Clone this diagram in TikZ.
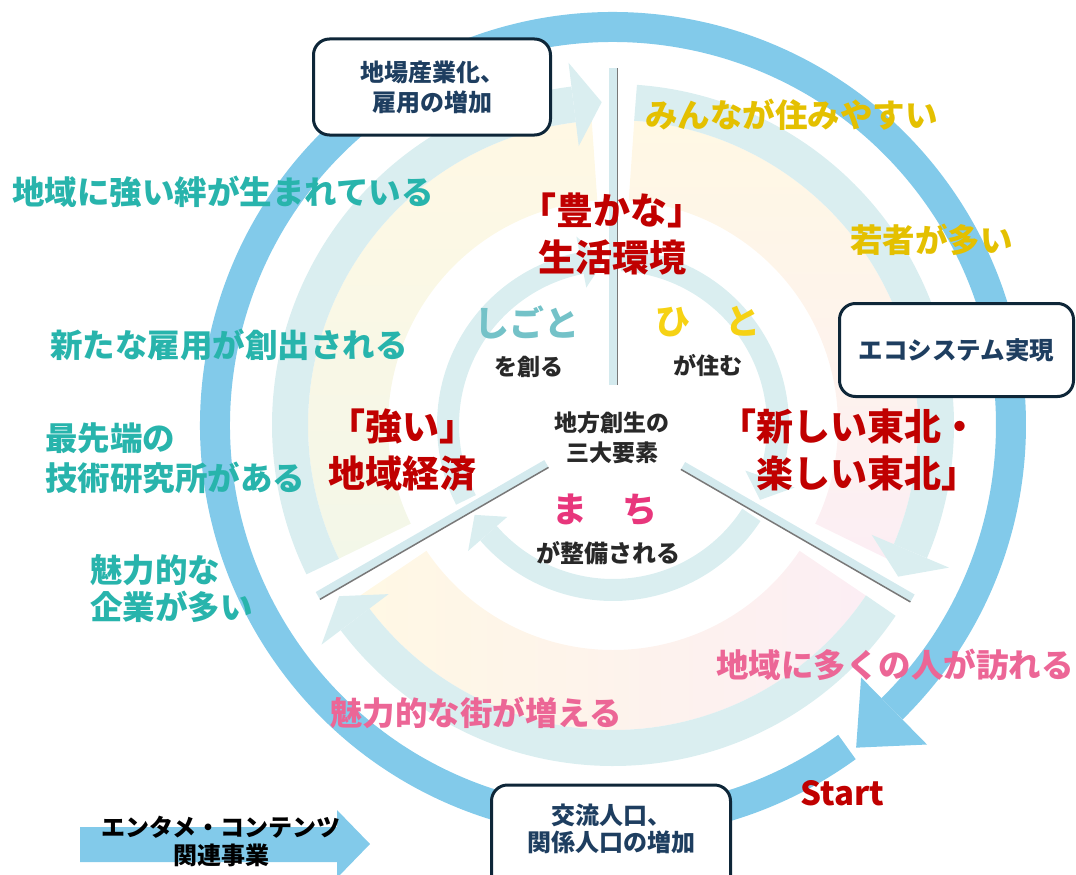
\documentclass[tikz,border=0pt]{standalone}
\usepackage{fontspec}
\setmainfont{Noto Sans CJK JP}
\usepackage{tikz}
\usetikzlibrary{calc}
\definecolor{ringblue}{RGB}{130,202,234}
\definecolor{ringpale}{RGB}{218,238,240}
\definecolor{boxnavy}{RGB}{14,38,56}
\definecolor{boxtext}{RGB}{30,62,96}
\definecolor{tealtext}{RGB}{40,180,172}
\definecolor{goldtext}{RGB}{228,192,0}
\definecolor{pinktext}{RGB}{236,102,150}
\definecolor{redtext}{RGB}{192,0,0}
\definecolor{darktext}{RGB}{40,40,40}
\definecolor{shigoto}{RGB}{116,194,200}
\definecolor{hito}{RGB}{246,210,20}
\definecolor{machi}{RGB}{232,54,124}
\definecolor{paleyellow}{RGB}{255,248,228}
\definecolor{palepink}{RGB}{252,238,244}
\definecolor{palegreen}{RGB}{243,247,232}
\definecolor{bargray}{RGB}{120,120,120}
\definecolor{barcyan}{RGB}{212,234,238}

\tikzset{
  infobox/.style={draw=boxnavy, line width=3pt, rounded corners=16pt, fill=white, inner sep=0pt},
  boxlabel/.style={text=boxtext, font=\fontsize{24}{30}\selectfont\bfseries, align=center},
  outerlabel/.style={font=\fontsize{32.5}{39}\selectfont\bfseries, inner sep=0pt, align=left},
  redlabel/.style={text=redtext, font=\fontsize{37}{47}\selectfont\bfseries, inner sep=0pt, align=center},
  elemlabel/.style={font=\fontsize{35}{40}\selectfont\bfseries, inner sep=0pt},
  sublabel/.style={text=darktext, font=\fontsize{23}{30}\selectfont\bfseries, inner sep=0pt, align=center},
  midring/.style={ringpale, line width=36pt},
  innerring/.style={ringpale, line width=22pt}
}

\begin{document}
\begin{tikzpicture}[x=1pt, y=1pt]
    \useasboundingbox (0,0) rectangle (1076,-875);
    \clip (0,0) rectangle (1076,-875);

    \begin{scope}[shift={(613,-425)}]
    % pale bands inside the middle ring
    \shade[top color=paleyellow, bottom color=palegreen] (206:225) arc[start angle=206, end angle=94, radius=225] -- (94:305) arc[start angle=94, end angle=206, radius=305] -- cycle;
    \shade[top color=paleyellow, bottom color=palepink] (86:225) arc[start angle=86, end angle=-26, radius=225] -- (-26:305) arc[start angle=-26, end angle=86, radius=305] -- cycle;
    \shade[left color=paleyellow, right color=palepink] (-34:225) arc[start angle=-34, end angle=-146, radius=225] -- (-146:305) arc[start angle=-146, end angle=-34, radius=305] -- cycle;

    % middle and inner ring arrows, one per sector
    \foreach \a in {210, 90, -30} {
        \draw[midring] (\a-4:323) arc[start angle=\a-4, end angle=\a-113, radius=323];
        \fill[ringpale] (\a-113:281) -- (\a-118:323) -- (\a-113:365) -- cycle;
        \draw[innerring] (\a-3:165) arc[start angle=\a-3, end angle=\a-109, radius=165];
        \fill[ringpale] (\a-109:140) -- (\a-117:165) -- (\a-109:192) -- cycle;
    }

    % outer ring
    \draw[ringblue, line width=30pt] (-54:398) arc[start angle=-54, end angle=-405.5, radius=398];
    \fill[ringblue] (-45.5:354) -- (-53:404) -- (-45.5:448) -- cycle;

    % dividers
    \foreach \a/\ra/\rb/\s in {90/40/357/-1, 210/77/341/1, -30/81/346/-1} {
        \begin{scope}[rotate=\a]
            \fill[barcyan] (\ra,-4) rectangle (\rb,4);
            \draw[bargray, line width=1.5pt] (\ra,\s*4.5) -- (\rb,\s*4.5);
        \end{scope}
    }
    \end{scope}

    % boxes
    \node[infobox, boxlabel, minimum width=237pt, minimum height=96pt] (jiba) at (432,-87) {地場産業化、\\雇用の増加};
    \node[infobox, boxlabel, font=\fontsize{24.5}{30}\selectfont\bfseries, minimum width=234pt, minimum height=93pt] (eco) at (956.5,-350) {エコシステム実現};
    \node[infobox, minimum width=239pt, minimum height=130pt, anchor=north] (kouryubox) at (611,-783.5) {};
    \node[boxlabel, font=\fontsize{24}{27}\selectfont\bfseries, inner sep=0pt] (kouryu) at (611,-828.5) {交流人口、\\関係人口の増加};

    % arrow bottom left
    \fill[ringblue] (80,-827) -- (337,-827) -- (337,-810) -- (370,-844) -- (337,-878) -- (337,-862) -- (80,-862) -- cycle;
    \node[font=\fontsize{24}{28}\selectfont\bfseries, align=center, inner sep=0pt] (entame) at (221,-841) {エンタメ・コンテンツ\\関連事業};

    % outer labels
    \node[outerlabel, text=tealtext, anchor=west] (kizuna) at (12,-192) {地域に強い絆が生まれている};
    \node[outerlabel, text=tealtext, anchor=west] (koyou) at (50,-345) {新たな雇用が創出される};
    \node[outerlabel, text=tealtext, anchor=west, font=\fontsize{32.5}{40}\selectfont\bfseries] (kenkyu) at (45,-458) {最先端の\\技術研究所がある};
    \node[outerlabel, text=tealtext, anchor=west, font=\fontsize{32.5}{37}\selectfont\bfseries] (kigyou) at (90,-588) {魅力的な\\企業が多い};
    \node[outerlabel, text=goldtext, anchor=west] (sumiyasui) at (645,-115) {みんなが住みやすい};
    \node[outerlabel, text=goldtext, anchor=west] (wakamono) at (850,-240) {若者が多い};
    \node[outerlabel, text=pinktext, anchor=west] (otozure) at (716,-665) {地域に多くの人が訪れる};
    \node[outerlabel, text=pinktext, anchor=west] (machinami) at (330,-713) {魅力的な街が増える};

    % sector titles
    \node[redlabel] (yutaka) at (612,-234.5) {「豊かな」\\生活環境};
    \node[redlabel] (tsuyoi) at (402,-450.5) {「強い」\\地域経済};
    \node[redlabel, align=right, anchor=east] (tohoku) at (979,-449.5) {「新しい東北・\\楽しい東北」};

    % centre
    \node[elemlabel, text=shigoto] (shigotolbl) at (527,-322) {しごと};
    \node[sublabel] (tsukuru) at (529,-367) {を創る};
    \node[elemlabel, text=hito] (hitolbl) at (708,-322) {ひ　と};
    \node[sublabel] (sumu) at (708,-365) {が住む};
    \node[elemlabel, text=machi] (machilbl) at (605,-510) {ま　ち};
    \node[sublabel, font=\fontsize{24}{30}\selectfont\bfseries] (seibi) at (608,-553) {が整備される};
    \node[sublabel] (sandai) at (612,-438) {地方創生の\\三大要素};

    \node[text=redtext, font=\fontsize{33}{33}\selectfont\bfseries, inner sep=0pt] (start) at (842,-793) {Start};
\end{tikzpicture}
\end{document}
